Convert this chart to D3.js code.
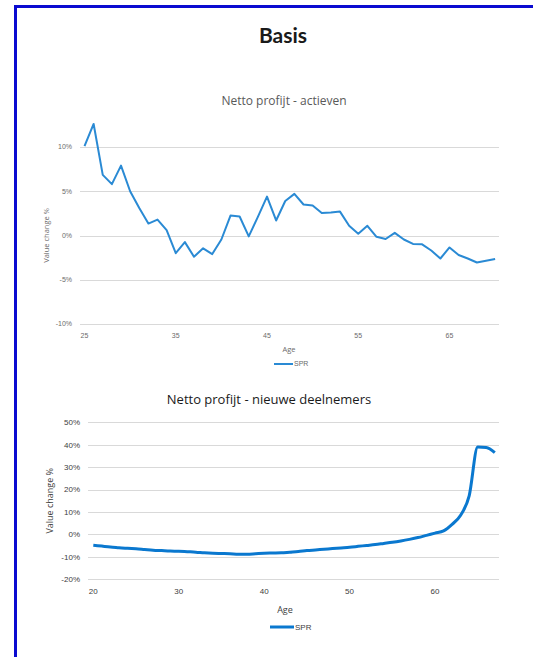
<!DOCTYPE html>
<html>
<head>
<meta charset="utf-8">
<script src="https://cdn.jsdelivr.net/npm/d3@7"></script>
<style>
  html, body { margin: 0; padding: 0; background: #fff; overflow: hidden; }
  svg { display: block; }
</style>
</head>
<body>
<div id="chart"></div>
<script>
// Netto profijt - actieven (ages 25..70)
const agesActive = d3.range(25, 71);
const valuesActive = [
  10.1, 12.6, 6.85, 5.8, 7.9, 5.0, 3.1, 1.35, 1.8, 0.6,
  -2.0, -0.75, -2.4, -1.45, -2.1, -0.45, 2.25, 2.15, -0.1, 2.1,
  4.4, 1.7, 3.9, 4.7, 3.5, 3.4, 2.55, 2.6, 2.7, 1.1,
  0.2, 1.1, -0.15, -0.4, 0.3, -0.45, -0.95, -1.0, -1.7, -2.6,
  -1.35, -2.2, -2.6, -3.05, -2.85, -2.65
];
const activeTicksX = [25, 35, 45, 55, 65];
const activeTicksY = [-10, -5, 0, 5, 10];

// Netto profijt - nieuwe deelnemers (ages 20..67)
const agesNew = d3.range(20, 68);
const valuesNew = [
  -4.8, -5.2, -5.6, -5.9, -6.2, -6.4, -6.7, -7.0, -7.2, -7.4,
  -7.5, -7.7, -7.9, -8.2, -8.4, -8.5, -8.6, -8.8, -8.8, -8.6,
  -8.4, -8.3, -8.2, -7.9, -7.6, -7.2, -6.9, -6.6, -6.3, -6.0,
  -5.7, -5.3, -4.9, -4.5, -4.0, -3.5, -2.9, -2.2, -1.4, -0.4,
  0.6, 1.6, 4.5, 8.6, 17.2, 39.0, 38.8, 36.5
];
const newTicksX = [20, 30, 40, 50, 60];
const newTicksY = [-20, -10, 0, 10, 20, 30, 40, 50];

const W = 533, H = 657;
const svg = d3.select('#chart').append('svg')
  .attr('width', W).attr('height', H);

// blue frame: only the left and top edges are in view
svg.append('path')
  .attr('d', `M15.5,${H} L15.5,6.5 L${W + 5},6.5`)
  .attr('fill', 'none')
  .attr('stroke', '#0a0ad0')
  .attr('stroke-width', 3);

svg.append('text')
  .attr('x', 283).attr('y', 43)
  .attr('text-anchor', 'middle')
  .style('font-family', 'Lato, "Open Sans", sans-serif')
  .style('font-weight', 700)
  .style('font-size', '21px')
  .attr('fill', '#1a1a1a')
  .text('Basis');

function drawChart(opt) {
  const x = d3.scaleLinear().domain(opt.xDomain).range(opt.xRange);
  const y = d3.scaleLinear().domain(opt.yDomain).range(opt.yRange);
  const g = svg.append('g');

  // gridlines
  g.selectAll('line.grid')
    .data(opt.ticksY).enter().append('line')
    .attr('x1', opt.plotLeft).attr('x2', opt.plotRight)
    .attr('y1', d => Math.round(y(d)) + 0.5)
    .attr('y2', d => Math.round(y(d)) + 0.5)
    .attr('stroke', '#d9d9d9')
    .attr('stroke-width', 1.2);

  // y tick labels
  g.selectAll('text.ty')
    .data(opt.ticksY).enter().append('text')
    .attr('x', opt.plotLeft - 8)
    .attr('y', d => y(d))
    .attr('dy', '0.35em')
    .attr('text-anchor', 'end')
    .style('font-family', '"Liberation Sans", "Open Sans", sans-serif')
    .style('font-size', opt.tickSize + 'px')
    .attr('fill', opt.tickColor)
    .text(d => d + '%');

  // x tick labels
  g.selectAll('text.tx')
    .data(opt.ticksX).enter().append('text')
    .attr('x', d => x(d))
    .attr('y', opt.yRange[0] + opt.tickSize + 7)
    .attr('text-anchor', 'middle')
    .style('font-family', '"Liberation Sans", "Open Sans", sans-serif')
    .style('font-size', opt.tickSize + 'px')
    .attr('fill', opt.tickColor)
    .text(d => d);

  // title
  g.append('text')
    .attr('x', opt.titleX).attr('y', opt.titleY)
    .attr('text-anchor', 'middle')
    .style('font-family', '"Open Sans", "Noto Sans", sans-serif')
    .style('font-size', opt.titleSize + 'px')
    .attr('fill', opt.titleColor)
    .text(opt.title);

  // y axis title
  g.append('text')
    .attr('transform', `translate(${opt.yLabelX},${(opt.yRange[0] + opt.yRange[1]) / 2}) rotate(-90)`)
    .attr('text-anchor', 'middle')
    .style('font-family', '"Open Sans", sans-serif')
    .style('font-size', opt.axisTitleSize + 'px')
    .attr('fill', opt.tickColor)
    .text('Value change %');

  // x axis title
  g.append('text')
    .attr('x', opt.xLabelX).attr('y', opt.xLabelY)
    .attr('text-anchor', 'middle')
    .style('font-family', '"Open Sans", sans-serif')
    .style('font-size', opt.axisTitleSize + 'px')
    .attr('fill', opt.tickColor)
    .text('Age');

  // legend
  g.append('line')
    .attr('x1', opt.legendX).attr('x2', opt.legendX + opt.legendLen)
    .attr('y1', opt.legendY).attr('y2', opt.legendY)
    .attr('stroke', opt.color)
    .attr('stroke-width', opt.strokeWidth);
  g.append('text')
    .attr('x', opt.legendX + opt.legendLen + 1).attr('y', opt.legendY)
    .attr('dy', '0.35em')
    .style('font-family', '"Liberation Sans", sans-serif')
    .style('font-size', opt.tickSize + 'px')
    .attr('fill', opt.tickColor)
    .text('SPR');

  // the series
  const line = d3.line()
    .x((d, i) => x(opt.ages[i]))
    .y(d => y(d))
    .curve(opt.curve);
  g.append('path')
    .datum(opt.values)
    .attr('d', line)
    .attr('fill', 'none')
    .attr('stroke', opt.color)
    .attr('stroke-width', opt.strokeWidth)
    .attr('stroke-linejoin', 'round');
}

drawChart({
  ages: agesActive, values: valuesActive,
  xDomain: [25, 65], xRange: [84.5, 449.5],
  yDomain: [-10, 10], yRange: [324, 147],
  plotLeft: 80, plotRight: 499,
  ticksX: activeTicksX, ticksY: activeTicksY,
  tickSize: 7, tickColor: '#6b6b6b',
  title: 'Netto profijt - actieven', titleX: 284, titleY: 105, titleSize: 12, titleColor: '#595959',
  yLabelX: 49, xLabelX: 289, xLabelY: 352, axisTitleSize: 7.5,
  legendX: 274, legendY: 364, legendLen: 19,
  color: '#2a8ad4', strokeWidth: 2,
  curve: d3.curveLinear
});

drawChart({
  ages: agesNew, values: valuesNew,
  xDomain: [20, 60], xRange: [93.3, 435],
  yDomain: [-20, 50], yRange: [579.3, 422.3],
  plotLeft: 88, plotRight: 499,
  ticksX: newTicksX, ticksY: newTicksY,
  tickSize: 8, tickColor: '#404040',
  title: 'Netto profijt - nieuwe deelnemers', titleX: 269, titleY: 404, titleSize: 13, titleColor: '#1a1a1a',
  yLabelX: 53, xLabelX: 285, xLabelY: 613, axisTitleSize: 9,
  legendX: 270, legendY: 627, legendLen: 24,
  color: '#0a78cf', strokeWidth: 3,
  curve: d3.curveMonotoneX
});
</script>
</body>
</html>
